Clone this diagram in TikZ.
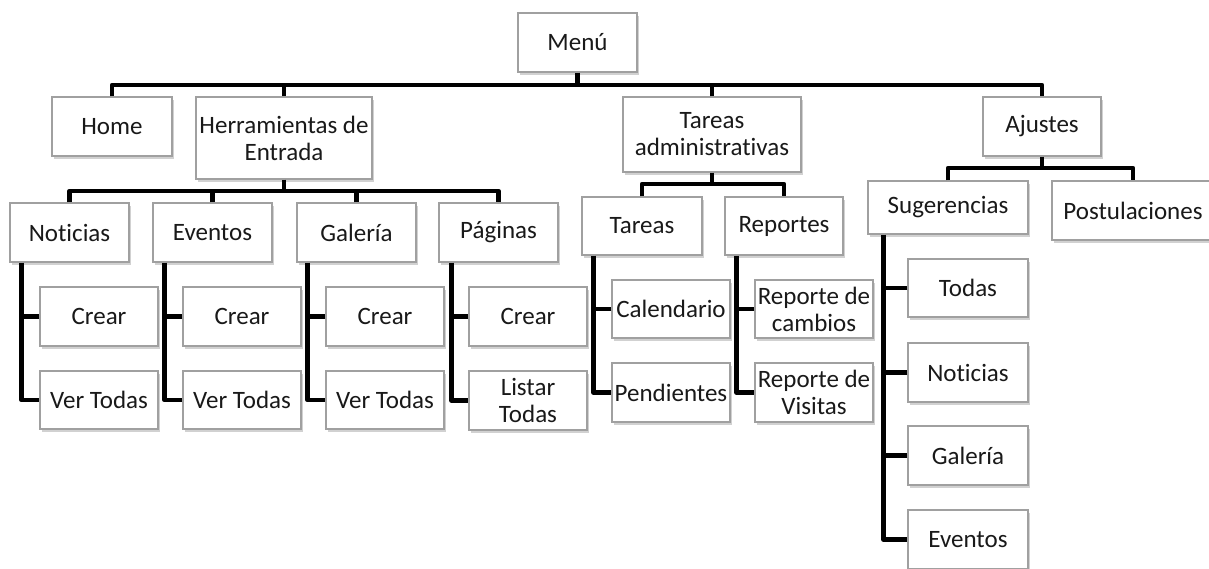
\documentclass[tikz,border=0pt]{standalone}
\usepackage{fontspec}
\setmainfont[Ligatures=NoCommon]{Carlito}
\usetikzlibrary{shadows}
\definecolor{boxline}{RGB}{160,160,160}
\definecolor{txt}{RGB}{25,25,25}
\begin{document}
\begin{tikzpicture}[x=1pt,y=-1pt,
  box/.style={draw=boxline, line width=1.2pt, fill=white, text=txt,
    font=\fontsize{25}{27}\selectfont, align=center, inner sep=0pt,
    drop shadow={shadow xshift=1.5pt, shadow yshift=-2.5pt, opacity=0.3, fill=black!60}},
  sz/.style n args={2}{minimum width=#1pt, minimum height=#2pt},
  conn/.style={line width=4.5pt, draw=black, line join=round}]
\useasboundingbox (0,0) rectangle (1209,568);
\clip (0,0) rectangle (1209,568);
% level 0/1
\node[box, sz={119}{59}] (menu) at (577.5,42.5) {Menú};
\node[box, sz={120}{59}] (home) at (112,126.5) {Home};
\node[box, sz={176}{82}] (herr) at (284,138) {Herramientas de\\Entrada};
\node[box, sz={178}{75}] (tadm) at (712,134.5) {Tareas\\administrativas};
\node[box, sz={118}{59}] (ajus) at (1042,126.5) {Ajustes};
% Herramientas group
\node[box, sz={119}{59}] (not) at (69.5,232.5) {Noticias};
\node[box, sz={119}{59}] (eve) at (212.5,232.5) {Eventos};
\node[box, sz={119}{59}] (gal) at (356.5,232.5) {Galería};
\node[box, sz={119}{59}] (pag) at (498.5,232.5) {Páginas};
\node[box, sz={118}{59}] (ncr) at (99,316.5) {Crear};
\node[box, sz={118}{58}] (nvt) at (99,400) {Ver Todas};
\node[box, sz={118}{59}] (ecr) at (242,316.5) {Crear};
\node[box, sz={118}{58}] (evt) at (242,400) {Ver Todas};
\node[box, sz={118}{59}] (gcr) at (385,316.5) {Crear};
\node[box, sz={118}{58}] (gvt) at (385,400) {Ver Todas};
\node[box, sz={118}{59}] (pcr) at (528,316.5) {Crear};
\node[box, sz={118}{59}] (plt) at (528,400.5) {Listar\\Todas};
% Tareas administrativas group
\node[box, sz={120}{58}] (tar) at (642,226) {Tareas};
\node[box, sz={118}{58}] (rep) at (784,226) {Reportes};
\node[box, sz={118}{58}] (cal) at (671,309) {Calendario};
\node[box, sz={118}{59}] (pen) at (671,392.5) {Pendientes};
\node[box, sz={118}{58}] (rca) at (814,309) {Reporte de\\cambios};
\node[box, sz={118}{59}] (rvi) at (814,392.5) {Reporte de\\Visitas};
% Ajustes group
\node[box, sz={160}{53}] (sug) at (948,207.5) {Sugerencias};
\node[box, sz={162}{59}] (pos) at (1133,210.5) {Postulaciones};
\node[box, sz={120}{58}] (std) at (968,288) {Todas};
\node[box, sz={120}{59}] (snt) at (968,372.5) {Noticias};
\node[box, sz={120}{59}] (sgl) at (968,455.5) {Galería};
\node[box, sz={120}{59}] (sev) at (968,539.5) {Eventos};
% bars
\coordinate (b0) at (0,85);
\coordinate (b1) at (0,191);
\coordinate (b2) at (0,184);
\coordinate (b3) at (0,168);
\draw[conn] (home.north) -- (home.north |- b0) -- (ajus.north |- b0) -- (ajus.north);
\draw[conn] (menu.south) -- (menu.south |- b0);
\draw[conn] (herr.north) -- (herr.north |- b0);
\draw[conn] (tadm.north) -- (tadm.north |- b0);
\draw[conn] (not.north) -- (not.north |- b1) -- (pag.north |- b1) -- (pag.north);
\draw[conn] (herr.south) -- (herr.south |- b1);
\draw[conn] (eve.north) -- (eve.north |- b1);
\draw[conn] (gal.north) -- (gal.north |- b1);
\draw[conn] (tar.north) -- (tar.north |- b2) -- (rep.north |- b2) -- (rep.north);
\draw[conn] (tadm.south) -- (tadm.south |- b2);
\draw[conn] (sug.north) -- (sug.north |- b3) -- (pos.north |- b3) -- (pos.north);
\draw[conn] (ajus.south) -- (ajus.south |- b3);
% side trees
\coordinate (nl) at ([xshift=12pt]not.south west);
\coordinate (el) at ([xshift=12pt]eve.south west);
\coordinate (gl) at ([xshift=11pt]gal.south west);
\coordinate (pl) at ([xshift=13pt]pag.south west);
\coordinate (tl) at ([xshift=12pt]tar.south west);
\coordinate (rl) at ([xshift=12pt]rep.south west);
\coordinate (sl) at ([xshift=16pt]sug.south west);
\draw[conn] (nl) |- (nvt.west);
\draw[conn] (ncr.west) -- (ncr.west -| nl);
\draw[conn] (el) |- (evt.west);
\draw[conn] (ecr.west) -- (ecr.west -| el);
\draw[conn] (gl) |- (gvt.west);
\draw[conn] (gcr.west) -- (gcr.west -| gl);
\draw[conn] (pl) |- (plt.west);
\draw[conn] (pcr.west) -- (pcr.west -| pl);
\draw[conn] (tl) |- (pen.west);
\draw[conn] (cal.west) -- (cal.west -| tl);
\draw[conn] (rl) |- (rvi.west);
\draw[conn] (rca.west) -- (rca.west -| rl);
\draw[conn] (sl) |- (sev.west);
\draw[conn] (std.west) -- (std.west -| sl);
\draw[conn] (snt.west) -- (snt.west -| sl);
\draw[conn] (sgl.west) -- (sgl.west -| sl);
\end{tikzpicture}
\end{document}
